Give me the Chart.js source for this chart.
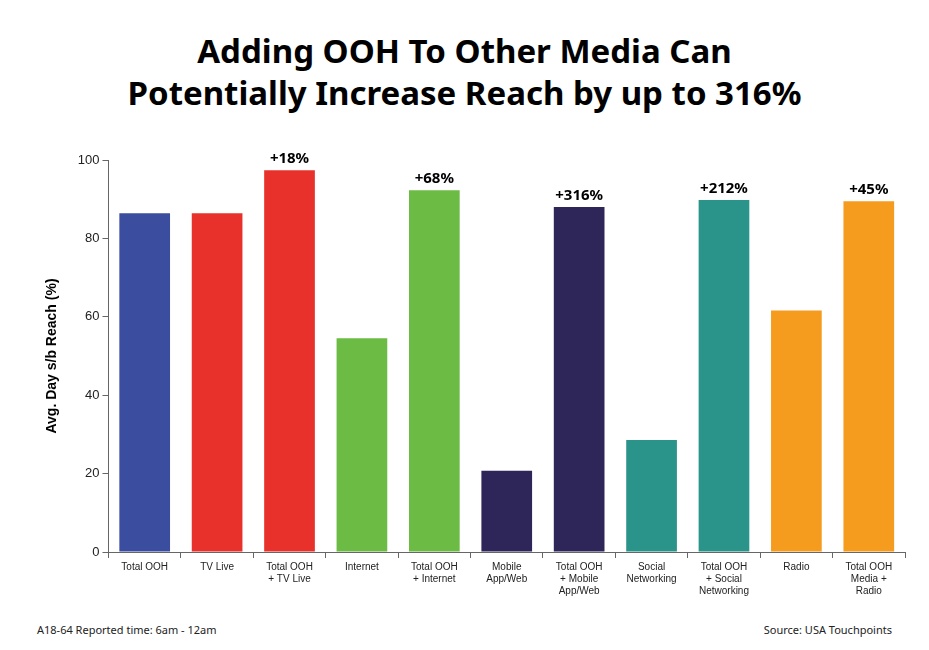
<!DOCTYPE html>
<html>
<head>
<meta charset="utf-8">
<script src="https://cdn.jsdelivr.net/npm/chart.js@4"></script>
<style>
  body { margin: 0; background: #fff; font-family: 'Noto Sans', sans-serif; }
  #wrap { position: relative; width: 929px; height: 650px; }
  #title { position: absolute; top: 30px; left: 0; width: 929px; text-align: center;
    font: bold 33px 'Noto Sans', sans-serif; line-height: 42px; color: #000; }
  .foot { position: absolute; top: 622px; font-size: 11px; color: #222; }
</style>
</head>
<body>
<div id="wrap">
  <div id="title">Adding OOH To Other Media Can<br>Potentially Increase Reach by up to 316%</div>
  <div style="position:absolute;left:40px;top:140px;width:870px;height:460px;"><canvas id="c"></canvas></div>
  <div class="foot" style="left:37px;">A18-64 Reported time: 6am - 12am</div>
  <div class="foot" style="right:37px;">Source: USA Touchpoints</div>
</div>
<script>
// Chart data
const categories = [
    ['Total OOH'], ['TV Live'], ['Total OOH', '+ TV Live'], ['Internet'],
    ['Total OOH', '+ Internet'], ['Mobile', 'App/Web'], ['Total OOH', '+ Mobile', 'App/Web'],
    ['Social', 'Networking'], ['Total OOH', '+ Social', 'Networking'], ['Radio'],
    ['Total OOH', 'Media +', 'Radio']
];
const reach = [86.4, 86.4, 97.4, 54.5, 92.3, 20.7, 88.0, 28.6, 89.8, 61.6, 89.5];
const lifts = ['', '', '+18%', '', '+68%', '', '+316%', '', '+212%', '', '+45%'];
const barColors = ['#3a4d9f', '#e8312a', '#e8312a', '#6cbb45', '#6cbb45', '#2e2558',
    '#2e2558', '#2a948a', '#2a948a', '#f59c1f', '#f59c1f'];

// Draw the "+xx%" labels above bars
const liftLabels = {
    id: 'liftLabels',
    afterDatasetsDraw(chart) {
        const ctx = chart.ctx;
        const meta = chart.getDatasetMeta(0);
        ctx.save();
        ctx.font = 'bold 15px "Noto Sans", sans-serif';
        ctx.fillStyle = '#000';
        ctx.textAlign = 'center';
        ctx.textBaseline = 'bottom';
        meta.data.forEach((bar, i) => {
            if (lifts[i]) ctx.fillText(lifts[i], bar.x, bar.y - 4);
        });
        ctx.restore();
    }
};

new Chart(document.getElementById('c'), {
    type: 'bar',
    data: {
        labels: categories,
        datasets: [{
            data: reach,
            backgroundColor: barColors,
            categoryPercentage: 1,
            barPercentage: 0.7
        }]
    },
    options: {
        responsive: true,
        maintainAspectRatio: false,
        animation: false,
        layout: { padding: { top: 20, right: 5, left: 0 } },
        plugins: { legend: { display: false }, tooltip: { enabled: false } },
        scales: {
            x: {
                grid: { drawOnChartArea: false, offset: true, tickLength: 6, color: '#666' },
                border: { color: '#666' },
                ticks: { color: '#222', font: { size: 10 }, maxRotation: 0, autoSkip: false }
            },
            y: {
                min: 0, max: 100,
                grid: { drawOnChartArea: false, tickLength: 6, color: '#666' },
                border: { color: '#666' },
                ticks: { stepSize: 20, color: '#222', font: { size: 13 } },
                title: { display: true, text: 'Avg. Day s/b Reach (%)', color: '#000',
                    font: { size: 14, weight: 'bold' }, padding: { bottom: 14 } }
            }
        }
    },
    plugins: [liftLabels]
});
</script>
</body>
</html>
